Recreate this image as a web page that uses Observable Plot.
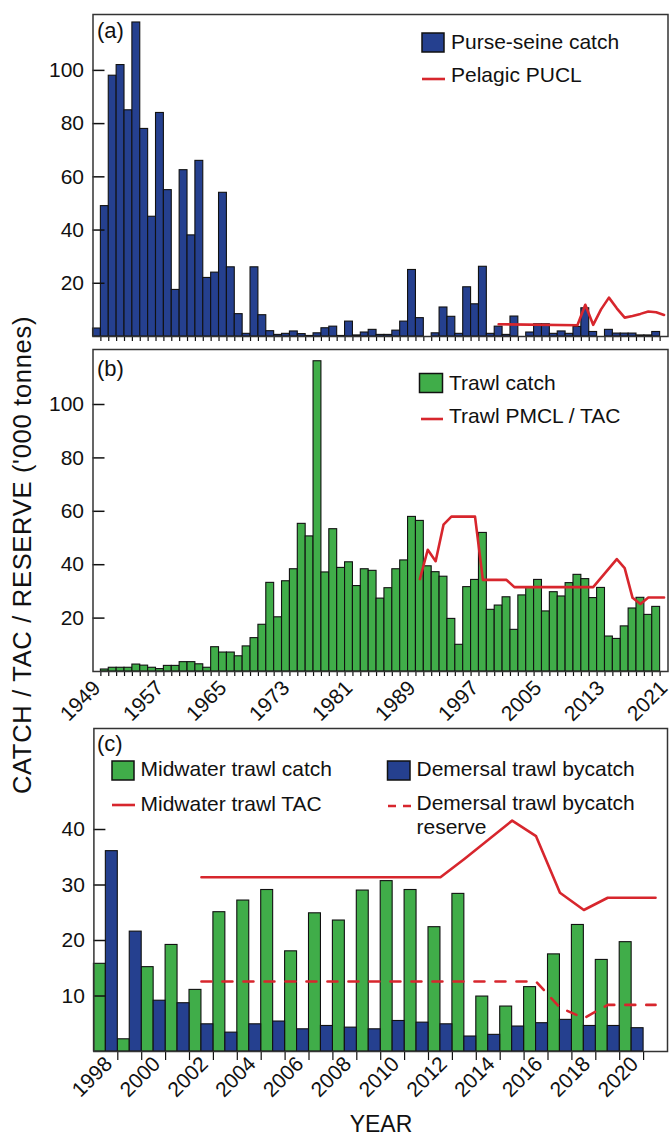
<!DOCTYPE html>
<html><head><meta charset="utf-8">
<script src="https://cdn.jsdelivr.net/npm/d3@7"></script>
<script src="https://cdn.jsdelivr.net/npm/@observablehq/plot@0.6"></script>
<style>
html,body{margin:0;padding:0;background:#fff;}
#wrap{position:relative;width:672px;height:1138px;overflow:hidden;font-family:"Liberation Sans",Arial,sans-serif;color:#111;}
#wrap svg{position:absolute;left:0;}
</style></head><body><div id="wrap"></div>
<script>
// ---------- DATA ----------
const yearsAB = d3.range(1949, 2022); // 1949 … 2021
const purseSeineCatch = [3,49,98,102,85,118,78,45,84,55,
  17.5,62.5,38,66,22,24,54,26,8.4,1,
  26,8,2,0.6,1,1.9,0.9,0.2,1.2,3.1,
  3.7,0.2,5.6,0.4,1.5,2.5,0.6,0.6,2.2,5.6,
  25,6.9,0,1.2,10.9,7.4,1,18.5,12.1,26.2,
  1,3.7,0.6,7.5,0,1.5,4.6,4.6,1,1.9,
  1,3.6,10.6,1.7,0,2.5,1.1,1.1,1.1,0.4,
  0.4,1.7,null];
const puclYears  = [2000,2010,2011,2012,2013,2014,2015,2016,2017,2018,2019,2020,2021];
const puclValues = [4.6,4.2,11.9,4.4,10.2,14.6,10.6,7.1,7.7,8.5,9.4,9.1,8.1];

const trawlCatch = [0,0.75,1.4,1.4,1.4,2.6,2.2,1.4,0.9,2.1,
  2.1,3.5,3.5,2.7,1.4,9.1,7.1,7.1,5.7,9.4,
  12.5,17.5,33.2,20.3,33.8,38.3,55.3,50.6,116.2,37.1,
  53.3,38.8,40.9,32,38.3,37.7,27.3,31.2,38.3,41.6,
  57.9,56.4,39.4,37.2,35.5,19.7,10,31.6,34.3,51.9,
  23.1,24.7,27.8,15.6,28.5,31.6,34.3,22.5,29.7,28.1,
  33.1,36.2,34.6,27.5,31.3,13.1,12.2,16.9,23.6,27.6,
  21.2,24.2,null];
const pmclYears  = [1990,1991,1992,1993,1994,1997,1998,2001,2002,2012,2015,2016,2017,2018,2019,2021];
const pmclValues = [34.6,45.6,41.3,55,58,58,34.3,34.3,31.6,31.6,42.1,38.7,27.6,25.3,27.7,27.7];

const yearsC = d3.range(1998, 2021); // 1998 … 2020
const midwaterCatch   = [15.8,2.2,15.2,19.2,11.1,25.1,27.2,29.1,18.05,24.9,23.6,29.0,30.7,29.1,22.4,28.4,9.9,8.1,11.6,17.5,22.8,16.5,19.7];
const demersalBycatch = [36.1,21.6,9.15,8.7,4.9,3.4,4.9,5.4,4.0,4.6,4.3,4.0,5.5,5.2,4.9,2.7,3.0,4.5,5.1,5.7,4.6,4.6,4.2];
const tacYears  = [2002,2012,2013,2015,2016,2017,2018,2019,2021];
const tacValues = [31.4,31.4,34.7,41.6,38.8,28.6,25.5,27.7,27.7];
const reserveYears  = [2002,2016,2017,2018,2019,2021];
const reserveValues = [12.6,12.6,7.9,6.0,8.4,8.4];

const ticksAB = [20,40,60,80,100];
const ticksC  = [10,20,30,40];
const labelYearsAB = [1949,1957,1965,1973,1981,1989,1997,2005,2013,2021];
const labelYearsC  = [1998,2000,2002,2004,2006,2008,2010,2012,2014,2016,2018,2020];

// ---------- STYLE ----------
const FONT = "'Liberation Sans', Arial, sans-serif";
const BLUE = "#25408f", GREEN = "#40ad49", RED = "#d7262d", INK = "#111";
const wrap = document.getElementById("wrap");

function place(svg, top) { svg.style.top = top + "px"; wrap.appendChild(svg); }
const baseStyle = {fontFamily: FONT, fontSize: "21px", color: INK, background: "transparent", overflow: "visible"};

const toRows = (years, vals) => years.map((year, i) => ({year, value: vals[i]})).filter(d => d.value != null);

// ---------- PANEL (a) ----------
const rowsA = toRows(yearsAB, purseSeineCatch);
const boundsAB = yearsAB.slice(0, -1).map(y => y + 0.5);
place(Plot.plot({
  width: 672, height: 345, marginTop: 14, marginBottom: 9, marginLeft: 92.5, marginRight: 4.5,
  style: baseStyle,
  x: {type: "linear", domain: [yearsAB[0] - 0.5, yearsAB[yearsAB.length - 1] + 0.5]},
  y: {domain: [0, 121]},
  marks: [
    Plot.rect(rowsA, {x1: d => d.year - 0.5, x2: d => d.year + 0.5, y1: 0, y2: "value", fill: BLUE, stroke: INK, strokeWidth: 1.1}),
    Plot.line(toRows(puclYears, puclValues), {x: "year", y: "value", stroke: RED, strokeWidth: 2.6}),
    Plot.axisY({ticks: ticksAB, tickSize: -12, tickPadding: 21, label: null, strokeWidth: 1.5}),
    Plot.axisX({ticks: boundsAB, tickSize: 5, tickFormat: () => "", label: null, strokeWidth: 1.2}),
    Plot.frame({stroke: "#333", strokeWidth: 1.5})
  ]
}), 0);

// ---------- PANEL (b) ----------
const rowsB = toRows(yearsAB, trawlCatch);
place(Plot.plot({
  width: 672, height: 375, marginTop: 9, marginBottom: 44, marginLeft: 92.5, marginRight: 4.5,
  style: baseStyle,
  x: {type: "linear", domain: [yearsAB[0] - 0.5, yearsAB[yearsAB.length - 1] + 0.5]},
  y: {domain: [0, 120.6]},
  marks: [
    Plot.rect(rowsB, {x1: d => d.year - 0.5, x2: d => d.year + 0.5, y1: 0, y2: "value", fill: GREEN, stroke: INK, strokeWidth: 1.1}),
    Plot.line(toRows(pmclYears, pmclValues), {x: "year", y: "value", stroke: RED, strokeWidth: 2.6}),
    Plot.axisY({ticks: ticksAB, tickSize: -12, tickPadding: 21, label: null, strokeWidth: 1.5}),
    Plot.axisX({ticks: boundsAB, tickSize: 5, tickFormat: () => "", label: null, strokeWidth: 1.2}),
    Plot.axisX({ticks: labelYearsAB, tickSize: 0, tickPadding: 13, dx: 0, tickRotate: -45, tickFormat: d => String(d), label: null}),
    Plot.frame({stroke: "#333", strokeWidth: 1.5})
  ]
}), 340);

// ---------- PANEL (c) ----------
const rowsC = yearsC.map((year, i) => ({year, mid: midwaterCatch[i], dem: demersalBycatch[i]}));
const boundsC = yearsC.map(y => y + 0.5);
place(Plot.plot({
  width: 672, height: 423, marginTop: 13, marginBottom: 87, marginLeft: 93.4, marginRight: 5,
  style: baseStyle,
  x: {type: "linear", domain: [yearsC[0] - 0.5, 2021.5]},
  y: {domain: [0, 58.2]},
  marks: [
    Plot.rect(rowsC, {x1: d => d.year - 0.5, x2: d => d.year, y1: 0, y2: "mid", fill: GREEN, stroke: INK, strokeWidth: 1.1}),
    Plot.rect(rowsC, {x1: d => d.year, x2: d => d.year + 0.5, y1: 0, y2: "dem", fill: BLUE, stroke: INK, strokeWidth: 1.1}),
    Plot.line(toRows(tacYears, tacValues), {x: "year", y: "value", stroke: RED, strokeWidth: 2.6}),
    Plot.line(toRows(reserveYears, reserveValues), {x: "year", y: "value", stroke: RED, strokeWidth: 2.6, strokeDasharray: "10,11"}),
    Plot.axisY({ticks: ticksC, tickSize: -12, tickPadding: 21, label: null, strokeWidth: 1.5}),
    Plot.axisX({ticks: boundsC, tickSize: 9, tickFormat: () => "", label: null, strokeWidth: 1.2}),
    Plot.axisX({ticks: labelYearsC, tickSize: 0, tickPadding: 9, dx: 3, tickRotate: -45, tickFormat: d => String(d), label: null}),
    Plot.frame({stroke: "#333", strokeWidth: 1.5})
  ]
}), 715);

// ---------- OVERLAY: legends, panel tags, axis titles ----------
const ov = d3.select(wrap).append("svg")
  .attr("width", 672).attr("height", 1138)
  .style("top", "0px").style("font-family", FONT).style("pointer-events", "none");

function swatch(x, y, w, h, fill) {
  ov.append("rect").attr("x", x).attr("y", y).attr("width", w).attr("height", h)
    .attr("fill", fill).attr("stroke", INK).attr("stroke-width", 1.5);
}
function seg(x1, x2, y, dash) {
  ov.append("line").attr("x1", x1).attr("x2", x2).attr("y1", y).attr("y2", y)
    .attr("stroke", RED).attr("stroke-width", 2.6).attr("stroke-dasharray", dash || null);
}
function txt(x, y, s, size) {
  ov.append("text").attr("x", x).attr("y", y).attr("font-size", size || 21).attr("fill", INK).text(s);
}

// (a)
txt(97, 37.5, "(a)", 22);
swatch(422, 33, 22, 19, BLUE);  txt(451, 48.5, "Purse-seine catch");
seg(422, 445, 79);               txt(451, 81.5, "Pelagic PUCL");
// (b)
txt(97, 375.5, "(b)", 22);
swatch(419.5, 373.5, 23, 19, GREEN); txt(449, 389.5, "Trawl catch");
seg(421, 443, 419);                   txt(449, 423, "Trawl PMCL / TAC");
// (c)
txt(97, 750.5, "(c)", 22);
swatch(112, 761, 22, 19, GREEN); txt(140.5, 776, "Midwater trawl catch");
seg(112, 135, 805);              txt(140.5, 811, "Midwater trawl TAC");
swatch(387.5, 761, 22.5, 19, BLUE); txt(416.5, 776, "Demersal trawl bycatch");
seg(388, 413, 806, "8,7");          txt(416.5, 810, "Demersal trawl bycatch");
txt(416.5, 834, "reserve");

// axis titles
ov.append("text").attr("transform", "translate(31,555) rotate(-90)")
  .attr("text-anchor", "middle").attr("font-size", 25.5).attr("letter-spacing", "0.7px").attr("fill", INK)
  .text("CATCH / TAC / RESERVE ('000 tonnes)");
ov.append("text").attr("x", 381).attr("y", 1132).attr("text-anchor", "middle")
  .attr("font-size", 23).attr("fill", INK).text("YEAR");
</script>
</body></html>
